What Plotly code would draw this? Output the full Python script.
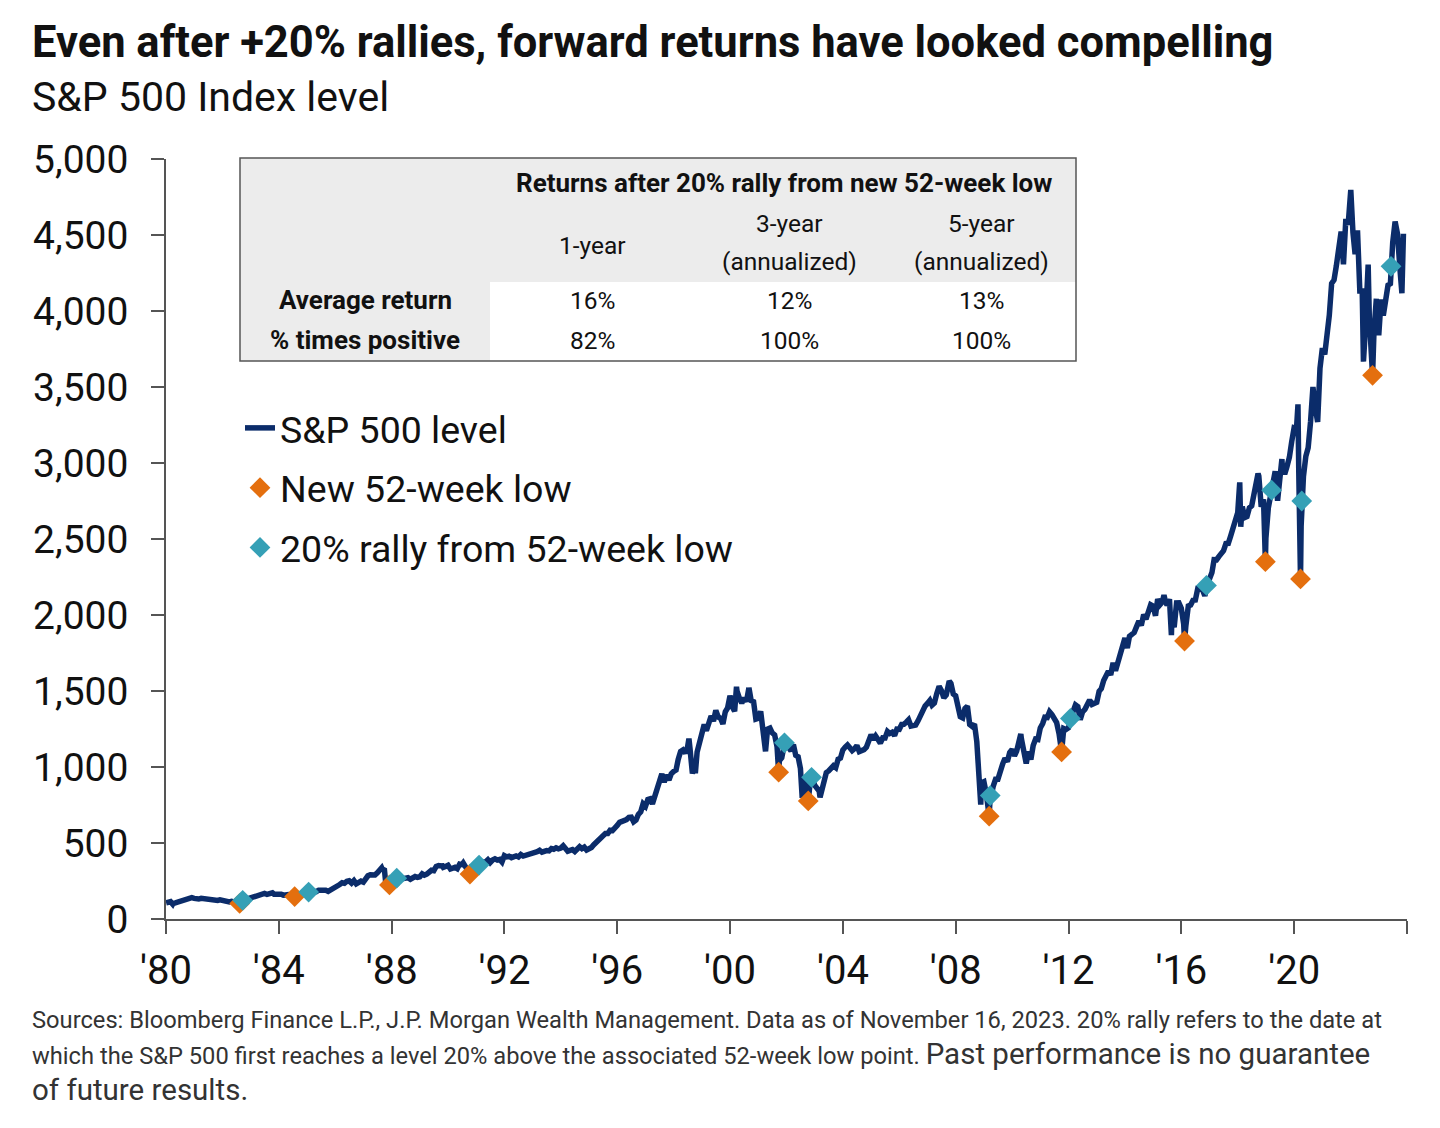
import pandas as pd
import plotly.graph_objects as go

# ---------------- DATA ----------------
# S&P 500 month-end closes, Jan 1980 ... Oct 2023
sp_1980s = [
    114.16, 113.66, 102.09, 106.29, 111.24, 114.24, 121.67, 122.38, 125.46, 127.47, 140.52, 135.76,
    129.55, 131.27, 136.00, 132.81, 132.59, 131.21, 130.92, 122.79, 116.18, 121.89, 126.35, 122.55,
    120.40, 113.11, 111.96, 116.44, 111.88, 109.61, 107.09, 119.51, 120.42, 133.71, 138.54, 140.64,
    145.30, 148.06, 152.96, 164.42, 162.39, 168.11, 162.56, 164.40, 166.07, 163.55, 166.40, 164.93,
    163.41, 157.06, 159.18, 160.05, 150.55, 153.18, 150.66, 166.68, 166.10, 166.09, 163.58, 167.24,
    179.63, 181.18, 180.66, 179.83, 189.55, 191.85, 190.92, 188.63, 182.08, 189.82, 202.17, 211.28,
    211.78, 226.92, 238.90, 235.52, 247.35, 250.84, 236.12, 252.93, 231.32, 243.98, 249.22, 242.17,
    274.08, 284.20, 291.70, 288.36, 290.10, 304.00, 318.66, 329.80, 321.83, 251.79, 230.30, 247.08,
    257.07, 267.82, 258.89, 261.33, 262.16, 273.50, 272.02, 261.52, 271.91, 278.97, 273.70, 277.72,
    297.47, 288.86, 294.87, 309.64, 320.52, 317.98, 346.08, 351.45, 349.15, 340.36, 345.99, 353.40,
]
sp_1990s = [
    329.08, 331.89, 339.94, 330.80, 361.23, 358.02, 356.15, 322.56, 306.05, 304.00, 322.22, 330.22,
    343.93, 367.07, 375.22, 375.35, 389.83, 371.16, 387.81, 395.43, 387.86, 392.45, 375.22, 417.09,
    408.79, 412.70, 403.69, 414.95, 415.35, 408.14, 424.21, 414.03, 417.80, 418.68, 431.35, 435.71,
    438.78, 443.38, 451.67, 440.19, 450.19, 450.53, 448.13, 463.56, 458.93, 467.83, 461.79, 466.45,
    481.61, 467.14, 445.77, 450.91, 456.50, 444.27, 458.26, 475.49, 462.69, 472.35, 453.69, 459.27,
    470.42, 487.39, 500.71, 514.71, 533.40, 544.75, 562.06, 561.88, 584.41, 581.50, 605.37, 615.93,
    636.02, 640.43, 645.50, 654.17, 669.12, 670.63, 639.95, 651.99, 687.31, 705.27, 757.02, 740.74,
    786.16, 790.82, 757.12, 801.34, 848.28, 885.14, 954.31, 899.47, 947.28, 914.62, 955.40, 970.43,
    980.28, 1049.34, 1101.75, 1111.75, 1090.82, 1133.84, 1120.67, 957.28, 1017.01, 1098.67, 1163.63, 1229.23,
    1279.64, 1238.33, 1286.37, 1335.18, 1301.84, 1372.71, 1328.72, 1320.41, 1282.71, 1362.93, 1388.91, 1469.25,
]
sp_2000s = [
    1394.46, 1366.42, 1498.58, 1452.43, 1420.60, 1454.60, 1430.83, 1517.68, 1436.51, 1429.40, 1314.95, 1320.28,
    1366.01, 1239.94, 1160.33, 1249.46, 1255.82, 1224.38, 1211.23, 1133.58, 1040.94, 1059.78, 1139.45, 1148.08,
    1130.20, 1106.73, 1147.39, 1076.92, 1067.14, 989.82, 911.62, 916.07, 815.28, 885.76, 936.31, 879.82,
    855.70, 841.15, 848.18, 916.92, 963.59, 974.50, 990.31, 1008.01, 995.97, 1050.71, 1058.20, 1111.92,
    1131.13, 1144.94, 1126.21, 1107.30, 1120.68, 1140.84, 1101.72, 1104.24, 1114.58, 1130.20, 1173.82, 1211.92,
    1181.27, 1203.60, 1180.59, 1156.85, 1191.50, 1191.33, 1234.18, 1220.33, 1228.81, 1207.01, 1249.48, 1248.29,
    1280.08, 1280.66, 1294.87, 1310.61, 1270.09, 1270.20, 1276.66, 1303.82, 1335.85, 1377.94, 1400.63, 1418.30,
    1438.24, 1406.82, 1420.86, 1482.37, 1530.62, 1503.35, 1455.27, 1473.99, 1526.75, 1549.38, 1481.14, 1468.36,
    1378.55, 1330.63, 1322.70, 1385.59, 1400.38, 1280.00, 1267.38, 1282.83, 1166.36, 968.75, 896.24, 903.25,
    825.88, 735.09, 797.87, 872.81, 919.14, 919.32, 987.48, 1020.62, 1057.08, 1036.19, 1095.63, 1115.10,
]
sp_2010s = [
    1073.87, 1104.49, 1169.43, 1186.69, 1089.41, 1030.71, 1101.60, 1049.33, 1141.20, 1183.26, 1180.55, 1257.64,
    1286.12, 1327.22, 1325.83, 1363.61, 1345.20, 1320.64, 1292.28, 1218.89, 1131.42, 1253.30, 1246.96, 1257.60,
    1312.41, 1365.68, 1408.47, 1397.91, 1310.33, 1362.16, 1379.32, 1406.58, 1440.67, 1412.16, 1416.18, 1426.19,
    1498.11, 1514.68, 1569.19, 1597.57, 1630.74, 1606.28, 1685.73, 1632.97, 1681.55, 1756.54, 1805.81, 1848.36,
    1782.59, 1859.45, 1872.34, 1883.95, 1923.57, 1960.23, 1930.67, 2003.37, 1972.29, 2018.05, 2067.56, 2058.90,
    1994.99, 2104.50, 2067.89, 2085.51, 2107.39, 2063.11, 2103.84, 1972.18, 1920.03, 2079.36, 2080.41, 2043.94,
    1940.24, 1932.23, 2059.74, 2065.30, 2096.95, 2098.86, 2173.60, 2170.95, 2168.27, 2126.15, 2198.81, 2238.83,
    2278.87, 2363.64, 2362.72, 2384.20, 2411.80, 2423.41, 2470.30, 2471.65, 2519.36, 2575.26, 2647.58, 2673.61,
    2823.81, 2713.83, 2640.87, 2648.05, 2705.27, 2718.37, 2816.29, 2901.52, 2913.98, 2711.74, 2760.17, 2506.85,
    2704.10, 2784.49, 2834.40, 2945.83, 2752.06, 2941.76, 2980.38, 2926.46, 2976.74, 3037.56, 3140.98, 3230.78,
]
sp_2020s = [
    3225.52, 2954.22, 2584.59, 2912.43, 3044.31, 3100.29, 3271.12, 3500.31, 3363.00, 3269.96, 3621.63, 3756.07,
    3714.24, 3811.15, 3972.89, 4181.17, 4204.11, 4297.50, 4395.26, 4522.68, 4307.54, 4605.38, 4567.00, 4766.18,
    4515.55, 4373.94, 4530.41, 4131.93, 4132.15, 3785.38, 4130.29, 3955.00, 3585.62, 3871.98, 4080.11, 3839.50,
    4076.60, 3970.15, 4109.31, 4169.48, 4179.83, 4450.38, 4588.96, 4507.66, 4288.05, 4193.80,
]

# Intra-month highs/lows visible on the daily line
extreme_dates = [
    "1980-01-02", "1980-03-27", "1983-10-10", "1987-08-25", "1987-10-19", "1989-10-09",
    "1990-07-16", "1994-02-02", "1998-07-17", "1998-10-08", "2000-03-24", "2000-09-01",
    "2001-04-04", "2002-07-23", "2003-03-11", "2007-10-09", "2008-11-20", "2010-04-23",
    "2010-07-02", "2015-05-21", "2015-08-25", "2018-01-26", "2018-02-08", "2018-09-20",
    "2019-07-26", "2020-02-19", "2022-01-03", "2022-06-16", "2022-08-16", "2023-10-27",
    "2023-11-16",
]
extreme_values = [
    105.76, 98.22, 172.65, 336.77, 224.84, 359.80,
    368.95, 482.00, 1186.75, 959.44, 1527.46, 1520.77,
    1103.25, 797.70, 800.73, 1565.15, 752.44, 1217.28,
    1022.58, 2130.82, 1867.61, 2872.87, 2581.00, 2930.75,
    3025.86, 3386.15, 4796.56, 3666.77, 4305.20, 4117.37,
    4508.24,
]

# New 52-week lows (orange)
low_dates = [
    "1982-08-12", "1984-07-24", "1987-12-04", "1990-10-11", "2001-09-21", "2002-10-09",
    "2009-03-09", "2011-10-03", "2016-02-11", "2018-12-24", "2020-03-23", "2022-10-12",
]
low_values = [
    102.42, 147.82, 223.92, 295.46, 965.80, 776.76,
    676.53, 1099.23, 1829.08, 2351.10, 2237.40, 3577.03,
]

# First date at +20% above the associated 52-week low (teal)
rally_dates = [
    "1982-09-20", "1985-01-21", "1988-03-07", "1991-02-06", "2001-12-05", "2002-11-21",
    "2009-03-23", "2012-01-25", "2016-11-21", "2019-03-15", "2020-04-08", "2023-06-08",
]
rally_values = [
    122.90, 177.38, 268.70, 354.55, 1158.96, 932.11,
    811.84, 1319.08, 2194.90, 2821.32, 2749.98, 4293.93,
]

# Table contents
table_title = "Returns after 20% rally from new 52-week low"
col_titles = ["1-year", "3-year", "5-year"]
col_subtitles = ["", "(annualized)", "(annualized)"]
row_labels = ["Average return", "% times positive"]
avg_return = ["16%", "12%", "13%"]
pct_positive = ["82%", "100%", "100%"]

x_tick_years = [1980, 1984, 1988, 1992, 1996, 2000, 2004, 2008, 2012, 2016, 2020, 2024]
x_tick_labels = ["'80", "'84", "'88", "'92", "'96", "'00", "'04", "'08", "'12", "'16", "'20", ""]

# ---------------- BUILD SERIES ----------------
monthly_vals = sp_1980s + sp_1990s + sp_2000s + sp_2010s + sp_2020s
monthly_dates = pd.date_range("1980-01-31", periods=len(monthly_vals), freq="ME")

line_df = pd.concat([
    pd.DataFrame({"date": monthly_dates, "v": monthly_vals}),
    pd.DataFrame({"date": pd.to_datetime(extreme_dates), "v": extreme_values}),
    pd.DataFrame({"date": pd.to_datetime(low_dates), "v": low_values}),
    pd.DataFrame({"date": pd.to_datetime(rally_dates), "v": rally_values}),
]).drop_duplicates("date").sort_values("date")

NAVY = "#0b2c6a"
ORANGE = "#e46f0e"
TEAL = "#35a0b6"
FONT = "Roboto"

fig = go.Figure()
fig.add_trace(go.Scatter(
    x=line_df["date"], y=line_df["v"], mode="lines", name="S&P 500 level",
    line=dict(color=NAVY, width=5.5), legendgroup="a",
))
fig.add_trace(go.Scatter(
    x=pd.to_datetime(low_dates), y=low_values, mode="markers", name="New 52-week low",
    marker=dict(symbol="diamond", size=16, color=ORANGE), legendgroup="b",
))
fig.add_trace(go.Scatter(
    x=pd.to_datetime(rally_dates), y=rally_values, mode="markers", name="20% rally from 52-week low",
    marker=dict(symbol="diamond", size=16, color=TEAL), legendgroup="c",
))

# ---------------- LAYOUT ----------------
L, R, T, B = 166, 1407, 159, 919
W, H = 1440, 1128


def px_x(p):
    return (p - L) / (R - L)


def px_y(p):
    return (B - p) / (B - T)


annotations = []
shapes = []

# Title / subtitle
annotations.append(dict(
    text="<b>Even after +20% rallies, forward returns have looked compelling</b>",
    x=px_x(30), y=px_y(42), xref="paper", yref="paper", xanchor="left", yanchor="middle",
    showarrow=False, font=dict(family=FONT, size=43.5, color="#111111"),
))
annotations.append(dict(
    text="S&P 500 Index level",
    x=px_x(30), y=px_y(97), xref="paper", yref="paper", xanchor="left", yanchor="middle",
    showarrow=False, font=dict(family=FONT, size=41, color="#111111"),
))

# Footnote
fn_small = 23.7
fn_big = 29.5
annotations.append(dict(
    text="Sources: Bloomberg Finance L.P., J.P. Morgan Wealth Management. Data as of November 16, 2023. "
         "20% rally refers to the date at",
    x=px_x(30), y=px_y(1020), xref="paper", yref="paper", xanchor="left", yanchor="middle",
    showarrow=False, font=dict(family=FONT, size=fn_small, color="#333333"),
))
annotations.append(dict(
    text="which the S&P 500 first reaches a level 20% above the associated 52-week low point. "
         f"<span style='font-size:{fn_big}px'>Past performance is no guarantee</span>",
    x=px_x(30), y=px_y(1054), xref="paper", yref="paper", xanchor="left", yanchor="middle",
    showarrow=False, font=dict(family=FONT, size=fn_small, color="#333333"),
))
annotations.append(dict(
    text="of future results.",
    x=px_x(30), y=px_y(1090), xref="paper", yref="paper", xanchor="left", yanchor="middle",
    showarrow=False, font=dict(family=FONT, size=fn_big, color="#333333"),
))

# Table
tx0, tx1, ty0, ty1 = 240, 1076, 158, 361
hdr_bottom = 282
lab_right = 490
GREY = "#ececec"
shapes.append(dict(type="rect", xref="paper", yref="paper",
                   x0=px_x(tx0), x1=px_x(tx1), y0=px_y(ty1), y1=px_y(ty0),
                   fillcolor="white", line=dict(width=0), layer="above"))
shapes.append(dict(type="rect", xref="paper", yref="paper",
                   x0=px_x(tx0), x1=px_x(tx1), y0=px_y(hdr_bottom), y1=px_y(ty0),
                   fillcolor=GREY, line=dict(width=0), layer="above"))
shapes.append(dict(type="rect", xref="paper", yref="paper",
                   x0=px_x(tx0), x1=px_x(lab_right), y0=px_y(ty1), y1=px_y(hdr_bottom),
                   fillcolor=GREY, line=dict(width=0), layer="above"))
shapes.append(dict(type="rect", xref="paper", yref="paper",
                   x0=px_x(tx0), x1=px_x(tx1), y0=px_y(ty1), y1=px_y(ty0),
                   fillcolor="rgba(0,0,0,0)", line=dict(width=1.5, color="#555555"), layer="above"))

TFS_B = 26
TFS = 24.5
annotations.append(dict(
    text=f"<b>{table_title}</b>", x=px_x(784), y=px_y(183), xref="paper", yref="paper",
    xanchor="center", yanchor="middle", showarrow=False,
    font=dict(family=FONT, size=TFS_B, color="#111111"),
))
col_x = [592, 789, 981]
for cx, ct, cs in zip(col_x, col_titles, col_subtitles):
    if cs:
        annotations.append(dict(text=ct, x=px_x(cx), y=px_y(223), xref="paper", yref="paper",
                                xanchor="center", yanchor="middle", showarrow=False,
                                font=dict(family=FONT, size=TFS, color="#111111")))
        annotations.append(dict(text=cs, x=px_x(cx), y=px_y(261), xref="paper", yref="paper",
                                xanchor="center", yanchor="middle", showarrow=False,
                                font=dict(family=FONT, size=TFS, color="#111111")))
    else:
        annotations.append(dict(text=ct, x=px_x(cx), y=px_y(245), xref="paper", yref="paper",
                                xanchor="center", yanchor="middle", showarrow=False,
                                font=dict(family=FONT, size=TFS, color="#111111")))
row_y = [300, 340]
for ry, rl, vals in zip(row_y, row_labels, [avg_return, pct_positive]):
    annotations.append(dict(text=f"<b>{rl}</b>", x=px_x(365), y=px_y(ry), xref="paper", yref="paper",
                            xanchor="center", yanchor="middle", showarrow=False,
                            font=dict(family=FONT, size=TFS_B, color="#111111")))
    for cx, v in zip(col_x, vals):
        annotations.append(dict(text=v, x=px_x(cx), y=px_y(ry), xref="paper", yref="paper",
                                xanchor="center", yanchor="middle", showarrow=False,
                                font=dict(family=FONT, size=TFS, color="#111111")))

fig.update_layout(
    width=W, height=H,
    margin=dict(l=L, r=W - R, t=T, b=H - B, pad=0),
    paper_bgcolor="white", plot_bgcolor="white",
    font=dict(family=FONT, color="#111111"),
    showlegend=True,
    legend=dict(
        x=px_x(240), y=px_y(397), xanchor="left", yanchor="top",
        font=dict(family=FONT, size=37.5, color="#111111"),
        bgcolor="rgba(0,0,0,0)", tracegroupgap=8, itemwidth=30,
    ),
    xaxis=dict(
        type="date", range=["1980-01-01", "2024-01-01"],
        tickvals=[f"{y}-01-01" for y in x_tick_years], ticktext=x_tick_labels,
        ticks="outside", ticklen=13, tickwidth=1.5, tickcolor="#555555",
        showline=True, linecolor="#555555", linewidth=1.5, showgrid=False, zeroline=False,
        tickfont=dict(family=FONT, size=40, color="#111111"), ticklabelstandoff=2,
    ),
    yaxis=dict(
        range=[0, 5000], dtick=500, tickformat=",",
        ticks="outside", ticklen=13, tickwidth=1.5, tickcolor="#555555",
        showline=True, linecolor="#555555", linewidth=1.5, showgrid=False, zeroline=False,
        tickfont=dict(family=FONT, size=39, color="#111111"), ticklabelstandoff=15,
    ),
    annotations=annotations,
    shapes=shapes,
)

fig.write_html("out.html", config={"displayModeBar": False},
               post_script="document.body.style.margin='0';document.body.style.overflow='hidden';")
